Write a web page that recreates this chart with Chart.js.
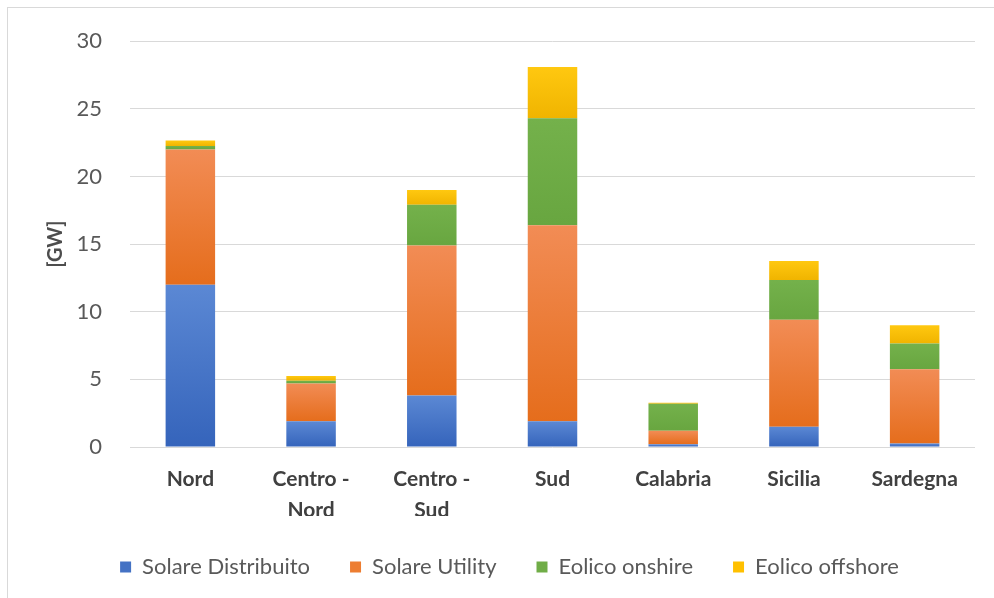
<!DOCTYPE html>
<html>
<head>
<meta charset="utf-8">
<script src="https://cdn.jsdelivr.net/npm/chart.js@4/dist/chart.umd.min.js"></script>
<style>
  html, body { margin: 0; padding: 0; background: #ffffff; }
  #wrap { position: relative; width: 994px; height: 598px; }
</style>
</head>
<body>
<div id="wrap"><canvas id="c" width="994" height="598"></canvas></div>
<script>
// Installed capacity by market zone, GW
const zones = [["Nord"], ["Centro -", "Nord"], ["Centro -", "Sud"], ["Sud"], ["Calabria"], ["Sicilia"], ["Sardegna"]];
const solareDistribuito = [12.0, 1.9, 3.8, 1.9, 0.2, 1.5, 0.25];
const solareUtility     = [10.0, 2.8, 11.1, 14.5, 1.0, 7.9, 5.5];
const eolicoOnshore     = [0.25, 0.2, 3.0, 7.9, 2.0, 2.95, 1.9];
const eolicoOffshore    = [0.4, 0.35, 1.1, 3.8, 0.08, 1.4, 1.35];
const yTicks = [0, 5, 10, 15, 20, 25, 30];

const seriesNames = ["Solare Distribuito", "Solare Utility", "Eolico onshire", "Eolico offshore"];
const seriesData = [solareDistribuito, solareUtility, eolicoOnshore, eolicoOffshore];
// [solid, light top, dark bottom]
const palette = [
  ["#4472C4", "#5b88d4", "#3564bb"],
  ["#ED7D31", "#f28c55", "#e56d1c"],
  ["#70AD47", "#74b14b", "#68a640"],
  ["#FFC000", "#ffc810", "#f0b400"]
];

// Each stacked segment gets a vertical gradient, lighter at its top edge.
function segmentFill(si) {
  return (ctx) => {
    const solid = palette[si][0];
    if (ctx.type !== 'data') return solid;
    const y = ctx.chart.scales.y;
    if (!y || !isFinite(y.top)) return solid;
    let base = 0;
    for (let k = 0; k < si; k++) base += seriesData[k][ctx.dataIndex];
    const top = base + seriesData[si][ctx.dataIndex];
    const y0 = y.getPixelForValue(top), y1 = y.getPixelForValue(base);
    if (!isFinite(y0) || !isFinite(y1) || Math.abs(y1 - y0) < 0.5) return solid;
    const g = ctx.chart.ctx.createLinearGradient(0, y0, 0, y1);
    g.addColorStop(0, palette[si][1]);
    g.addColorStop(1, palette[si][2]);
    return g;
  };
}

const frame = {
  id: 'frame',
  beforeDraw(chart) {
    const c = chart.ctx;
    c.save();
    c.fillStyle = '#ffffff';
    c.fillRect(0, 0, chart.width, chart.height);
    c.strokeStyle = '#d9d9d9';
    c.lineWidth = 1;
    c.strokeRect(7.5, 7.5, chart.width + 20, chart.height + 20);
    c.restore();
  }
};

const fam = 'Lato, "Open Sans", sans-serif';

new Chart(document.getElementById('c'), {
  type: 'bar',
  data: {
    labels: zones,
    datasets: seriesNames.map((name, i) => ({
      label: name,
      data: seriesData[i],
      backgroundColor: segmentFill(i),
      borderWidth: 0,
      categoryPercentage: 1.0,
      barPercentage: 0.41
    }))
  },
  options: {
    responsive: false,
    animation: false,
    layout: { padding: { left: 44, right: 19, top: 27, bottom: 10 } },
    plugins: {
      tooltip: { enabled: false },
      legend: {
        position: 'bottom',
        labels: {
          color: '#595959',
          font: { family: fam, size: 22 },
          boxWidth: 11,
          boxHeight: 11,
          padding: 40,
          generateLabels(chart) {
            return chart.data.datasets.map((ds, i) => ({
              text: ds.label,
              fillStyle: palette[i][0],
              strokeStyle: palette[i][0],
              lineWidth: 0,
              hidden: false,
              datasetIndex: i,
              fontColor: '#595959'
            }));
          }
        }
      }
    },
    scales: {
      x: {
        stacked: true,
        grid: { display: false, drawTicks: false },
        border: { display: false },
        ticks: {
          color: '#404040',
          font: { family: fam, size: 21, weight: 'bold', lineHeight: 1.5 },
          padding: 16,
          maxRotation: 0,
          autoSkip: false
        },
        afterFit(scale) { scale.height = 69; }
      },
      y: {
        stacked: true,
        min: 0,
        max: 30,
        afterBuildTicks(scale) { scale.ticks = yTicks.map(v => ({ value: v })); },
        grid: { color: '#d9d9d9', lineWidth: 1, drawTicks: false },
        border: { display: false },
        ticks: {
          color: '#595959',
          font: { family: fam, size: 22 },
          padding: 28
        },
        title: {
          display: true,
          text: '[GW]',
          color: '#4d4d4d',
          font: { family: fam, size: 20, weight: 'bold' },
          padding: { top: 0, bottom: 0 }
        },
        afterFit(scale) { scale.width = 86; }
      }
    }
  },
  plugins: [frame]
});
</script>
</body>
</html>
